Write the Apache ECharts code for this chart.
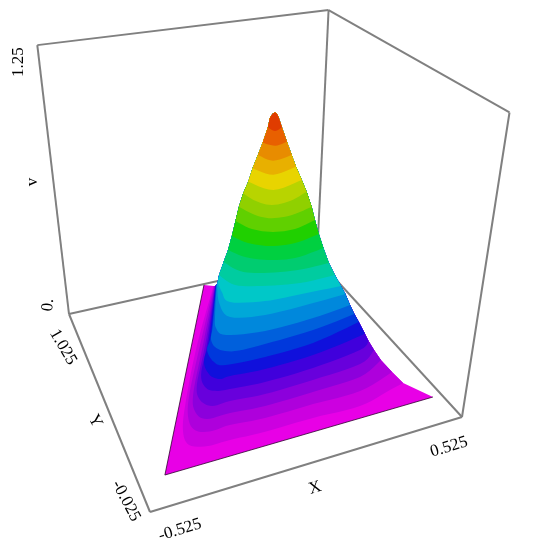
<!DOCTYPE html>
<html>
<head>
<meta charset="utf-8">
<style>html,body{margin:0;padding:0;background:#fff}#mainChart{width:551px;height:553px}</style>
<script src="https://cdn.jsdelivr.net/npm/echarts@6/dist/echarts.min.js"></script>
</head>
<body>
<div id="mainChart"></div>
<script>
// surface contours, each a list of [X, Y] at the height in levels
var levels = [0,0.0417,0.0833,0.125,0.1667,0.2083,0.25,0.2917,0.3333,0.375,0.4167,0.4583,0.5,0.5417,0.5833,0.625,0.6667,0.7083,0.75,0.7917,0.8333,0.875,0.9167,0.9583,1];
var rim = [[0.019,1.019],[-0.442,0.095],[0.492,0.094]];
var c01 = [[0.033,0.947],[-0.154,0.614],[-0.286,0.351],[-0.341,0.221],[-0.345,0.152],[-0.293,0.126],[-0.221,0.125],[-0.107,0.117],[0.059,0.118],[0.224,0.111],[0.354,0.144],[0.413,0.158]];
var c02 = [[0.017,0.896],[-0.159,0.566],[-0.285,0.322],[-0.322,0.216],[-0.314,0.164],[-0.271,0.147],[-0.211,0.151],[-0.098,0.139],[0.069,0.141],[0.238,0.140],[0.383,0.185]];
var c03 = [[0.001,0.845],[-0.165,0.518],[-0.282,0.287],[-0.302,0.204],[-0.280,0.166],[-0.205,0.164],[-0.092,0.153],[0.075,0.157],[0.249,0.166],[0.356,0.217]];
var c04 = [[-0.016,0.795],[-0.173,0.472],[-0.268,0.288],[-0.283,0.217],[-0.258,0.177],[-0.199,0.178],[-0.087,0.167],[0.081,0.172],[0.258,0.186],[0.337,0.234]];
var c05 = [[-0.033,0.744],[-0.183,0.426],[-0.253,0.288],[-0.260,0.223],[-0.234,0.198],[-0.194,0.191],[-0.081,0.181],[0.087,0.187],[0.269,0.212],[0.319,0.244]];
var c06 = [[-0.049,0.697],[-0.183,0.404],[-0.237,0.303],[-0.242,0.236],[-0.220,0.207],[-0.186,0.209],[-0.074,0.199],[0.095,0.206],[0.281,0.238],[0.304,0.252]];
var c07 = [[-0.065,0.649],[-0.183,0.383],[-0.222,0.314],[-0.223,0.249],[-0.194,0.222],[-0.068,0.213],[0.101,0.221],[0.290,0.266]];
var c08 = [[-0.083,0.598],[-0.175,0.385],[-0.208,0.313],[-0.204,0.262],[-0.160,0.233],[-0.061,0.231],[0.109,0.240],[0.272,0.268]];
var c09 = [[-0.099,0.550],[-0.166,0.388],[-0.188,0.321],[-0.172,0.276],[-0.053,0.249],[0.115,0.255],[0.257,0.274]];
var c10 = [[-0.115,0.502],[-0.148,0.397],[-0.144,0.313],[-0.039,0.282],[0.128,0.284],[0.247,0.291]];
var c11 = [[-0.128,0.462],[-0.136,0.403],[-0.133,0.341],[-0.030,0.305],[0.077,0.298],[0.229,0.291]];
var c12 = [[-0.128,0.448],[-0.102,0.375],[-0.026,0.338],[0.091,0.308],[0.214,0.308]];
var c13 = [[-0.106,0.463],[-0.078,0.393],[-0.013,0.354],[0.093,0.330],[0.202,0.330]];
var c14 = [[-0.087,0.472],[-0.053,0.412],[0.007,0.368],[0.090,0.347],[0.200,0.368]];
var c15 = [[-0.065,0.494],[-0.034,0.434],[0.023,0.390],[0.103,0.377],[0.198,0.400]];
var c16 = [[-0.041,0.522],[-0.012,0.454],[0.042,0.412],[0.114,0.403],[0.198,0.431]];
var c17 = [[-0.019,0.547],[0.008,0.476],[0.048,0.437],[0.116,0.432],[0.198,0.458]];
var c18 = [[0.004,0.566],[0.021,0.501],[0.057,0.458],[0.121,0.460],[0.198,0.498]];
var c19 = [[0.024,0.572],[0.075,0.488],[0.189,0.518]];
var c20 = [[0.047,0.591],[0.090,0.523],[0.182,0.549]];
var c21 = [[0.073,0.609],[0.101,0.551],[0.174,0.567]];
var c22 = [[0.094,0.620],[0.122,0.583],[0.170,0.597]];
var c23 = [[0.127,0.654],[0.136,0.617],[0.169,0.636]];
var tip = [[0.130,0.646],[0.152,0.674],[0.164,0.682],[0.165,0.668],[0.157,0.635]];
var contours = [rim,c01,c02,c03,c04,c05,c06,c07,c08,c09,c10,c11,c12,c13,c14,c15,c16,c17,c18,c19,c20,c21,c22,c23,tip];
var bandColors = ['#E800E6','#CC00E0','#AE00DC','#8C00DC','#6800DC','#4000DC','#1010DC','#0038DC','#0060DC','#0088DC','#00A8D8','#00C8C8','#00CCA0','#00CC70','#00D040','#20D000','#60D000','#90D000','#B8D400','#E8D400','#E8B000','#E88C00','#E86000','#E03C00'];

var boxX = [-0.525, 0.525];
var boxY = [-0.025, 1.025];
var boxV = [0, 1.25];
var xTicks = ['-0.525', '0.525'];
var yTicks = ['-0.025', '1.025'];
var vTicks = ['0.', '1.25'];
var axisNames = ['X', 'Y', 'v'];
var boxEdges = [[0,0,0,1,0,0],[0,0,0,0,1,0],[0,1,0,1,1,0],[1,0,0,1,1,0],[0,1,0,0,1,1],[1,1,0,1,1,1],[1,0,0,1,0,1],[0,1,1,1,1,1],[1,1,1,1,0,1]];

// perspective view of the box, gives the plane the two hidden axes span
function project(x, y, v) {
    var u = (x - boxX[0]) / (boxX[1] - boxX[0]);
    var t = (y - boxY[0]) / (boxY[1] - boxY[0]);
    var w = (v - boxV[0]) / (boxV[1] - boxV[0]);
    var d = 1 + 0.1357 * u + 0.3374 * t - 0.204 * w;
    return [(150 + 374.7 * u - 57.72 * t - 50 * w) / d, (512 - 38.4 * u - 92.06 * t - 368.8 * w) / d];
}

function smoothArc(pts) {
    var out = [];
    for (var i = 0; i < pts.length - 1; i++) {
        var p0 = pts[Math.max(i - 1, 0)], p1 = pts[i], p2 = pts[i + 1], p3 = pts[Math.min(i + 2, pts.length - 1)];
        for (var s = 0; s < 6; s++) {
            var t = s / 6, t2 = t * t, t3 = t2 * t;
            out.push([
                0.5 * (2 * p1[0] + (p2[0] - p0[0]) * t + (2 * p0[0] - 5 * p1[0] + 4 * p2[0] - p3[0]) * t2 + (3 * p1[0] - p0[0] - 3 * p2[0] + p3[0]) * t3),
                0.5 * (2 * p1[1] + (p2[1] - p0[1]) * t + (2 * p0[1] - 5 * p1[1] + 4 * p2[1] - p3[1]) * t2 + (3 * p1[1] - p0[1] - 3 * p2[1] + p3[1]) * t3)
            ]);
        }
    }
    out.push(pts[pts.length - 1]);
    return out;
}

function viewArc(k) {
    return contours[k].map(function (p) { return project(p[0], p[1], levels[k]); });
}

// each band is everything above its contour, painted from the lowest up
function renderBand(params, api) {
    var k = api.value(0);
    var pts = k === 0 ? viewArc(0) : smoothArc(viewArc(k));
    var j;
    for (j = k + 1; j < contours.length - 1; j++) {
        var a = viewArc(j);
        pts.push(a[a.length - 1]);
    }
    pts = pts.concat(smoothArc(viewArc(contours.length - 1)).reverse());
    for (j = contours.length - 2; j > k; j--) {
        pts.push(viewArc(j)[0]);
    }
    return {
        type: 'polygon',
        shape: {points: pts.map(function (p) { return api.coord(p); })},
        style: {fill: bandColors[k], stroke: null}
    };
}

function renderEdge(params, api) {
    var e = boxEdges[api.value(0)];
    var p = api.coord(project(boxX[e[0]], boxY[e[1]], boxV[e[2]]));
    var q = api.coord(project(boxX[e[3]], boxY[e[4]], boxV[e[5]]));
    return {
        type: 'line',
        shape: {x1: p[0], y1: p[1], x2: q[0], y2: q[1]},
        style: {stroke: '#808080', lineWidth: 2}
    };
}

function renderRim(params, api) {
    return {
        type: 'polyline',
        shape: {points: viewArc(0).map(function (p) { return api.coord(p); })},
        style: {stroke: '#300030', lineWidth: 0.8, fill: null}
    };
}

function label(text, x, y, deg) {
    return {
        type: 'text', x: x, y: y, rotation: deg * Math.PI / 180, silent: true,
        style: {text: text, fontFamily: 'Liberation Serif', fontSize: 17, fill: '#000', align: 'center', verticalAlign: 'middle'}
    };
}

var myChart = echarts.init(document.getElementById('mainChart'));
myChart.setOption({
    animation: false,
    grid: {left: 0, top: 0, width: 551, height: 553},
    xAxis: {type: 'value', min: 0, max: 551, show: false},
    yAxis: {type: 'value', min: 0, max: 553, inverse: true, show: false},
    series: [{
        type: 'custom', clip: false, silent: true,
        renderItem: renderEdge,
        data: boxEdges.map(function (e, i) { return [i, i]; })
    }, {
        type: 'custom', clip: false, silent: true,
        renderItem: renderBand,
        data: bandColors.map(function (c, i) { return [i, i]; })
    }, {
        type: 'custom', clip: false, silent: true,
        renderItem: renderRim,
        data: [[0, 0]]
    }],
    graphic: [
        label(vTicks[1], 19, 62, 90),
        label(axisNames[2], 33, 182, 90),
        label(vTicks[0], 48, 305, 85),
        label(yTicks[1], 63, 347, -60),
        label(axisNames[1], 95, 421, -62),
        label(yTicks[0], 126, 501, -62),
        label(xTicks[0], 180, 530, 17),
        label(axisNames[0], 315, 488, 17),
        label(xTicks[1], 449, 447, 17)
    ]
});
</script>
</body>
</html>
